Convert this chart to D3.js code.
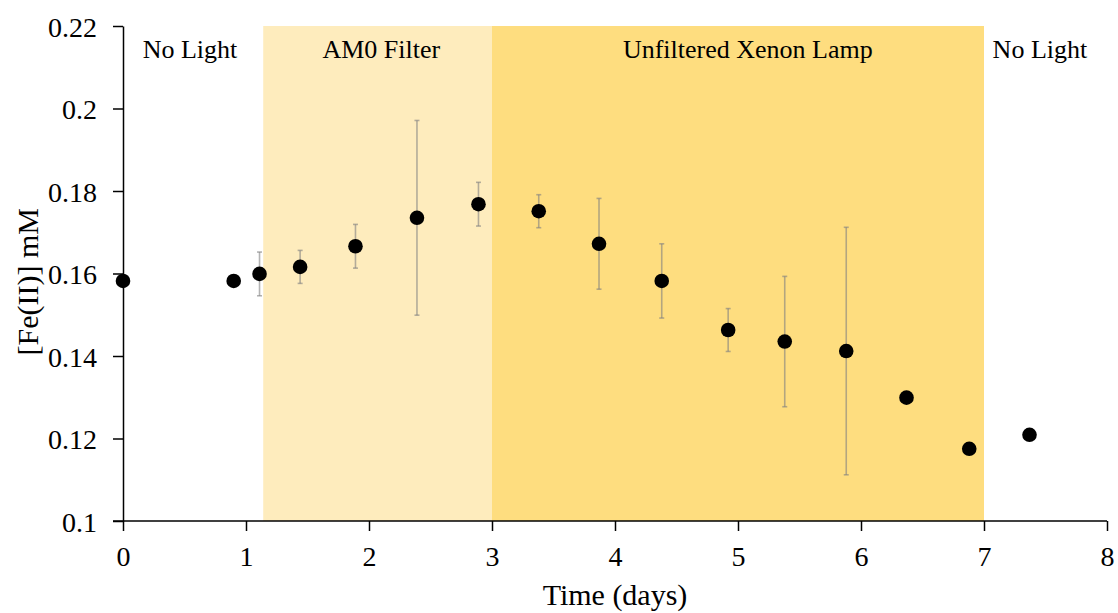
<!DOCTYPE html>
<html>
<head>
<meta charset="utf-8">
<script src="https://cdn.jsdelivr.net/npm/d3@7"></script>
<style>
  body { margin: 0; background: #fff; }
  text { font-family: "Liberation Serif", "DejaVu Serif", serif; fill: #000; }
</style>
</head>
<body>
<div id="chart"></div>
<script>
// data
const days = [0, 0.90, 1.11, 1.44, 1.89, 2.39, 2.89, 3.38, 3.87, 4.38, 4.92, 5.38, 5.88, 6.37, 6.88, 7.37];
const fe2 = [0.1582, 0.1582, 0.1599, 0.1616, 0.1666, 0.1735, 0.1768, 0.1751, 0.1672, 0.1582, 0.1463, 0.1435, 0.1412, 0.1299, 0.1175, 0.1209];
const fe2Err = [0, 0, 0.0053, 0.0040, 0.0053, 0.0236, 0.0053, 0.0040, 0.0110, 0.0090, 0.0052, 0.0158, 0.0300, 0, 0, 0];

const xTicks = [0, 1, 2, 3, 4, 5, 6, 7, 8];
const yTicks = [0.1, 0.12, 0.14, 0.16, 0.18, 0.2, 0.22];

// light phases (start, end in days)
const phaseStart = [1.14, 3];
const phaseEnd = [3, 7];
const phaseColor = ["#feecbd", "#fedd7f"];

const labelText = ["No Light", "AM0 Filter", "Unfiltered Xenon Lamp", "No Light"];
const labelDay = [0.16, 2.10, 5.08, 7.07];
const labelAnchor = ["start", "middle", "middle", "start"];

const margin = { top: 26, right: 11, bottom: 92, left: 123 },
  width = 1118 - margin.left - margin.right,
  height = 613 - margin.top - margin.bottom;

const svg = d3.select("#chart")
  .append("svg")
  .attr("width", 1118)
  .attr("height", 613)
  .append("g")
  .attr("transform", `translate(${margin.left},${margin.top})`);

const x = d3.scaleLinear().domain([0, 8]).range([0, width]);
const y = d3.scaleLinear().domain([0.1, 0.22]).range([height, 0]);

// shaded bands
svg.selectAll(".phase")
  .data(phaseStart)
  .enter()
  .append("rect")
  .attr("class", "phase")
  .attr("x", (d, i) => x(d))
  .attr("width", (d, i) => x(phaseEnd[i]) - x(d))
  .attr("y", y(0.22))
  .attr("height", y(0.1) - y(0.22))
  .attr("fill", (d, i) => phaseColor[i]);

// phase labels
svg.selectAll(".phase-label")
  .data(labelText)
  .enter()
  .append("text")
  .attr("class", "phase-label")
  .attr("x", (d, i) => x(labelDay[i]))
  .attr("y", 32)
  .attr("text-anchor", (d, i) => labelAnchor[i])
  .style("font-size", "26px")
  .text(d => d);

// axes
const xAxis = svg.append("g")
  .attr("transform", `translate(0,${height})`)
  .call(d3.axisBottom(x).tickValues(xTicks).tickFormat(d3.format("d")).tickSize(10).tickSizeOuter(0));

const yAxis = svg.append("g")
  .call(d3.axisLeft(y).tickValues(yTicks).tickFormat(d => String(+d.toFixed(2))).tickSize(10).tickSizeOuter(0));

[xAxis, yAxis].forEach(ax => {
  ax.select(".domain").attr("stroke", "#000").attr("stroke-width", 1.5);
  ax.selectAll(".tick line").attr("stroke", "#000").attr("stroke-width", 1.5);
  ax.selectAll(".tick text").style("font-size", "28px").attr("fill", "#000");
});
xAxis.selectAll(".tick text").attr("dy", "1.15em");
yAxis.selectAll(".tick text").attr("x", -26).attr("dy", "0.36em");
// axis line reaches the outer y tick
xAxis.select(".domain").attr("d", `M-10,0H${width}`);

// error bars
const err = svg.selectAll(".err")
  .data(days.map((d, i) => i).filter(i => fe2Err[i] > 0))
  .enter()
  .append("g")
  .attr("class", "err")
  .attr("stroke", "#808080")
  .attr("stroke-opacity", 0.6)
  .attr("stroke-width", 1.6);

err.append("line")
  .attr("x1", i => x(days[i])).attr("x2", i => x(days[i]))
  .attr("y1", i => y(fe2[i] + fe2Err[i])).attr("y2", i => y(fe2[i] - fe2Err[i]));
err.append("line")
  .attr("x1", i => x(days[i]) - 2.5).attr("x2", i => x(days[i]) + 2.5)
  .attr("y1", i => y(fe2[i] + fe2Err[i])).attr("y2", i => y(fe2[i] + fe2Err[i]));
err.append("line")
  .attr("x1", i => x(days[i]) - 2.5).attr("x2", i => x(days[i]) + 2.5)
  .attr("y1", i => y(fe2[i] - fe2Err[i])).attr("y2", i => y(fe2[i] - fe2Err[i]));

// points
svg.selectAll(".pt")
  .data(days)
  .enter()
  .append("circle")
  .attr("class", "pt")
  .attr("cx", d => x(d))
  .attr("cy", (d, i) => y(fe2[i]))
  .attr("r", 7.3)
  .attr("fill", "#000");

// axis titles
svg.append("text")
  .attr("x", width / 2)
  .attr("y", height + 84)
  .attr("text-anchor", "middle")
  .style("font-size", "30px")
  .text("Time (days)");

svg.append("text")
  .attr("transform", "rotate(-90)")
  .attr("x", -(y(0.158)))
  .attr("y", -margin.left + 38)
  .attr("text-anchor", "middle")
  .style("font-size", "30px")
  .text("[Fe(II)] mM");
</script>
</body>
</html>
